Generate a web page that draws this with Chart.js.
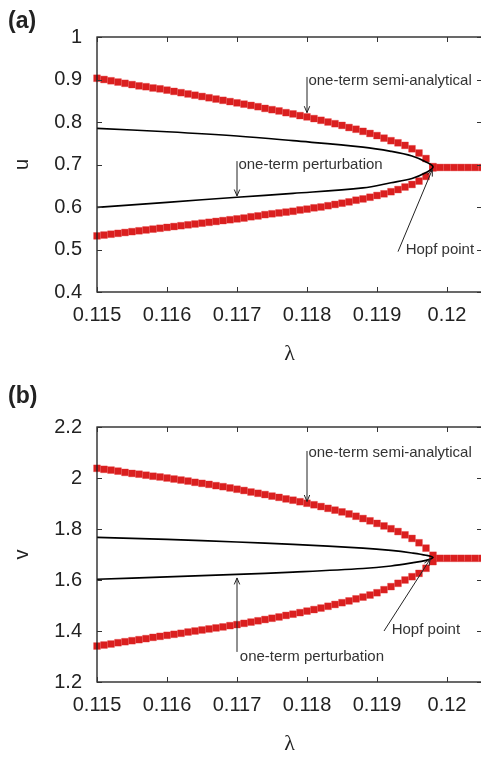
<!DOCTYPE html>
<html>
<head>
<meta charset="utf-8">
<script src="https://cdn.jsdelivr.net/npm/chart.js@4.4.0/dist/chart.umd.min.js"></script>
<style>
  html, body { margin: 0; padding: 0; background: #fff; overflow: hidden; width: 481px; height: 758px; }
  .panel { position: absolute; left: 0; width: 500px; height: 390px; }
  .tag { position: absolute; left: 8px; font: bold 23px "Liberation Sans", Arial, sans-serif; color: #222; }
</style>
</head>
<body>
<div class="panel" style="top:0"><canvas id="chartU" width="500" height="390"></canvas></div>
<div class="panel" style="top:390px"><canvas id="chartV" width="500" height="390"></canvas></div>
<div class="tag" style="top:7px">(a)</div>
<div class="tag" style="top:382px">(b)</div>
<script>
const FONT = '"Liberation Sans", Arial, sans-serif';

// λ sweep of the semi-analytical branches, up to the Hopf point
const lambdas = [0.1150, 0.1151, 0.1152, 0.1153, 0.1154, 0.1155, 0.1156, 0.1157, 0.1158, 0.1159,
                 0.1160, 0.1161, 0.1162, 0.1163, 0.1164, 0.1165, 0.1166, 0.1167, 0.1168, 0.1169,
                 0.1170, 0.1171, 0.1172, 0.1173, 0.1174, 0.1175, 0.1176, 0.1177, 0.1178, 0.1179,
                 0.1180, 0.1181, 0.1182, 0.1183, 0.1184, 0.1185, 0.1186, 0.1187, 0.1188, 0.1189,
                 0.1190, 0.1191, 0.1192, 0.1193, 0.1194, 0.1195, 0.1196, 0.1197, 0.1198];
// past the Hopf point: steady state only
const lambdasFlat = [0.1198, 0.1199, 0.1200, 0.1201, 0.1202, 0.1203, 0.1204, 0.1205];

// (a) u, one-term semi-analytical
const uUpper = [0.903, 0.900, 0.897, 0.894, 0.891, 0.888, 0.885, 0.883, 0.880, 0.878,
                0.875, 0.872, 0.869, 0.866, 0.863, 0.860, 0.857, 0.854, 0.851, 0.848,
                0.845, 0.842, 0.839, 0.836, 0.832, 0.829, 0.826, 0.822, 0.819, 0.815,
                0.812, 0.808, 0.804, 0.800, 0.796, 0.792, 0.787, 0.783, 0.778, 0.773,
                0.768, 0.762, 0.756, 0.751, 0.745, 0.737, 0.727, 0.714, 0.695];
const uLower = [0.532, 0.534, 0.536, 0.538, 0.540, 0.542, 0.544, 0.546, 0.548, 0.550,
                0.552, 0.554, 0.556, 0.558, 0.560, 0.562, 0.564, 0.566, 0.568, 0.570,
                0.572, 0.574, 0.577, 0.579, 0.582, 0.584, 0.586, 0.588, 0.590, 0.593,
                0.595, 0.598, 0.600, 0.603, 0.606, 0.609, 0.612, 0.616, 0.619, 0.623,
                0.627, 0.631, 0.636, 0.641, 0.647, 0.653, 0.661, 0.672, 0.692];
const uFlat = [0.693, 0.693, 0.693, 0.693, 0.693, 0.693, 0.693, 0.693];

// (a) u, one-term perturbation (closed loop: upper branch then lower branch)
const pertLambda = [0.1150, 0.1160, 0.1170, 0.1178, 0.1188, 0.1192, 0.1195, 0.1197, 0.1198,
                    0.1197, 0.1195, 0.1192, 0.1188, 0.1178, 0.1170, 0.1160, 0.1150];
const pertU = [0.785, 0.777, 0.767, 0.756, 0.741, 0.731, 0.720, 0.706, 0.694,
               0.681, 0.667, 0.657, 0.645, 0.632, 0.623, 0.611, 0.599];

// (b) v, one-term semi-analytical
const vUpper = [2.038, 2.034, 2.031, 2.027, 2.022, 2.018, 2.015, 2.011, 2.007, 2.004,
                2.000, 1.996, 1.992, 1.988, 1.983, 1.979, 1.975, 1.970, 1.966, 1.961,
                1.956, 1.951, 1.945, 1.940, 1.935, 1.929, 1.924, 1.918, 1.913, 1.907,
                1.901, 1.895, 1.888, 1.881, 1.874, 1.867, 1.859, 1.850, 1.841, 1.832,
                1.822, 1.812, 1.801, 1.790, 1.777, 1.763, 1.746, 1.725, 1.697];
const vLower = [1.341, 1.345, 1.349, 1.354, 1.358, 1.362, 1.366, 1.370, 1.375, 1.379,
                1.383, 1.387, 1.391, 1.396, 1.400, 1.404, 1.408, 1.412, 1.416, 1.421,
                1.425, 1.430, 1.435, 1.440, 1.445, 1.450, 1.455, 1.461, 1.466, 1.472,
                1.478, 1.484, 1.490, 1.497, 1.504, 1.511, 1.518, 1.526, 1.533, 1.541,
                1.550, 1.562, 1.574, 1.587, 1.600, 1.613, 1.626, 1.646, 1.672];
const vFlat = [1.685, 1.685, 1.685, 1.685, 1.685, 1.685, 1.685, 1.685];

// (b) v, one-term perturbation
const pertV = [1.767, 1.759, 1.749, 1.740, 1.725, 1.716, 1.706, 1.697, 1.688,
               1.677, 1.667, 1.655, 1.645, 1.631, 1.622, 1.612, 1.603];

const xTicks = [0.115, 0.116, 0.117, 0.118, 0.119, 0.12];

const toPoints = (xs, ys) => xs.map((x, i) => ({ x: x, y: ys[i] }));

// frame with inward ticks, text labels and arrows
const notesPlugin = {
  id: 'notes',
  afterDraw(chart, args, opts) {
    const { ctx, chartArea: a, scales: { x, y } } = chart;
    ctx.save();
    ctx.strokeStyle = '#1a1a1a';
    ctx.lineWidth = 1.3;
    ctx.strokeRect(a.left, a.top, a.right - a.left, a.bottom - a.top);

    ctx.lineWidth = 1;
    ctx.strokeStyle = '#333';
    const tl = 5;
    const seg = (x1, y1, x2, y2) => { ctx.beginPath(); ctx.moveTo(x1, y1); ctx.lineTo(x2, y2); ctx.stroke(); };
    x.ticks.forEach(t => {
      const px = Math.round(x.getPixelForValue(t.value)) + 0.5;
      seg(px, a.bottom, px, a.bottom - tl);
      seg(px, a.top, px, a.top + tl);
    });
    y.ticks.forEach(t => {
      const py = Math.round(y.getPixelForValue(t.value)) + 0.5;
      seg(a.left, py, a.left + tl, py);
      seg(a.right, py, a.right - tl, py);
    });

    ctx.fillStyle = '#333';
    ctx.font = '15px ' + FONT;
    ctx.textAlign = 'left';
    ctx.textBaseline = 'middle';
    opts.labels.forEach(l => {
      ctx.fillText(l.text, x.getPixelForValue(l.at[0]), y.getPixelForValue(l.at[1]));
    });

    ctx.strokeStyle = '#222';
    opts.arrows.forEach(ar => {
      const x1 = x.getPixelForValue(ar.from[0]), y1 = y.getPixelForValue(ar.from[1]);
      const x2 = x.getPixelForValue(ar.to[0]), y2 = y.getPixelForValue(ar.to[1]);
      seg(x1, y1, x2, y2);
      const ang = Math.atan2(y2 - y1, x2 - x1);
      const hl = 7, spread = 0.4;
      seg(x2, y2, x2 - hl * Math.cos(ang - spread), y2 - hl * Math.sin(ang - spread));
      seg(x2, y2, x2 - hl * Math.cos(ang + spread), y2 - hl * Math.sin(ang + spread));
    });
    ctx.restore();
  }
};

function semiSet(data) {
  return {
    data: data,
    showLine: false,
    pointStyle: 'rect',
    pointRadius: 4.8,
    backgroundColor: '#da1f1f',
    borderColor: 'rgba(225, 50, 50, 0.35)',
    borderWidth: 1,
    clip: false
  };
}

function makePanel(id, cfg) {
  return new Chart(document.getElementById(id), {
    type: 'scatter',
    data: {
      datasets: [
        {
          data: toPoints(pertLambda, cfg.pert),
          showLine: true,
          pointRadius: 0,
          borderColor: '#000',
          borderWidth: 1.7,
          tension: 0.35
        },
        semiSet(toPoints(lambdas, cfg.upper)),
        semiSet(toPoints(lambdas, cfg.lower)),
        semiSet(toPoints(lambdasFlat, cfg.flat))
      ]
    },
    options: {
      responsive: false,
      animation: false,
      devicePixelRatio: 1,
      events: [],
      layout: { padding: { top: 37, right: 18, left: 0, bottom: 0 } },
      plugins: {
        legend: { display: false },
        tooltip: { enabled: false },
        notes: cfg.notes
      },
      scales: {
        x: {
          type: 'linear',
          min: 0.115,
          max: 0.1205,
          afterBuildTicks: s => { s.ticks = xTicks.map(v => ({ value: v })); },
          afterFit: s => { s.height = 98; },
          grid: { display: false, drawTicks: false },
          border: { display: false },
          ticks: {
            autoSkip: false,
            maxRotation: 0,
            padding: 11,
            color: '#222',
            font: { family: FONT, size: 20 },
            callback: v => String(+Number(v).toFixed(3))
          },
          title: {
            display: true,
            text: 'λ',
            color: '#222',
            font: { family: '"Liberation Serif", serif', size: 22 },
            padding: { top: 0, bottom: 23 }
          }
        },
        y: {
          min: cfg.yMin,
          max: cfg.yMax,
          afterFit: s => { s.width = 97; },
          grid: { display: false, drawTicks: false },
          border: { display: false },
          ticks: {
            stepSize: cfg.yStep,
            padding: 15,
            color: '#222',
            font: { family: FONT, size: 20 },
            callback: v => String(+Number(v).toFixed(2))
          },
          title: {
            display: true,
            text: cfg.yTitle,
            color: '#222',
            font: { family: FONT, size: 20 },
            padding: { top: 10, bottom: 0 }
          }
        }
      }
    },
    plugins: [notesPlugin]
  });
}

makePanel('chartU', {
  yMin: 0.4, yMax: 1, yStep: 0.1, yTitle: 'u',
  upper: uUpper, lower: uLower, flat: uFlat, pert: pertU,
  notes: {
    labels: [
      { text: 'one-term semi-analytical', at: [0.11802, 0.897] },
      { text: 'one-term perturbation', at: [0.11702, 0.699] },
      { text: 'Hopf point', at: [0.11941, 0.500] }
    ],
    arrows: [
      { from: [0.118, 0.906], to: [0.118, 0.822] },
      { from: [0.117, 0.708], to: [0.117, 0.626] },
      { from: [0.1193, 0.495], to: [0.11979, 0.688] }
    ]
  }
});

makePanel('chartV', {
  yMin: 1.2, yMax: 2.2, yStep: 0.2, yTitle: 'v',
  upper: vUpper, lower: vLower, flat: vFlat, pert: pertV,
  notes: {
    labels: [
      { text: 'one-term semi-analytical', at: [0.11802, 2.098] },
      { text: 'one-term perturbation', at: [0.11704, 1.298] },
      { text: 'Hopf point', at: [0.11921, 1.404] }
    ],
    arrows: [
      { from: [0.118, 2.106], to: [0.118, 1.908] },
      { from: [0.117, 1.318], to: [0.117, 1.608] },
      { from: [0.1191, 1.400], to: [0.11976, 1.682] }
    ]
  }
});
</script>
</body>
</html>
